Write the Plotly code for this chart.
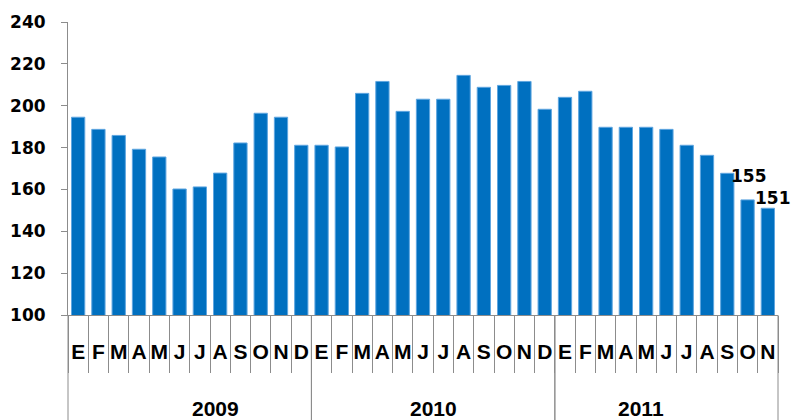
import plotly.graph_objects as go

months = ["E", "F", "M", "A", "M", "J", "J", "A", "S", "O", "N", "D"]
years = ["2009", "2010", "2011"]
values_2009 = [194.5, 188.7, 185.8, 179.2, 175.5, 160.2, 161.2, 167.8, 182.2, 196.4, 194.5, 181.1]
values_2010 = [181.1, 180.3, 205.9, 211.6, 197.3, 203.1, 203.1, 214.5, 208.8, 209.7, 211.6, 198.3]
values_2011 = [204.0, 206.9, 189.7, 189.7, 189.7, 188.7, 181.1, 176.3, 167.7, 155, 151]
labelled_points = [("2011", 9), ("2011", 10)]  # (year, month index) with data labels

series = {"2009": values_2009, "2010": values_2010, "2011": values_2011}

cat_ids, cat_text, vals = [], [], []
year_spans = []
for yr in years:
    start = len(cat_ids)
    for i, v in enumerate(series[yr]):
        cat_ids.append(f"{months[i]}-{i}-{yr}")
        cat_text.append(months[i])
        vals.append(v)
    year_spans.append((yr, start, len(cat_ids) - 1))
N = len(cat_ids)

BLUE = "#0070C0"
GREY = "#8C8C8C"
FONT_NUM = dict(family="DejaVu Sans", size=17, color="black", weight="bold")
FONT_CAT = dict(family="Liberation Sans, Arial", size=21, color="black", weight="bold")

fig = go.Figure(go.Bar(
    x=cat_ids, y=vals,
    marker=dict(color=BLUE, line=dict(color="#5FA6E0", width=1)),
    hoverinfo="x+y",
))

plot_h = 420 - 22 - 105
y_bottom = -105 / plot_h

shapes = []
for yr, s, e in year_spans:
    for b in (s, e + 1):
        xp = b / N
        shapes.append(dict(type="line", xref="paper", yref="paper",
                           x0=xp, x1=xp, y0=0, y1=y_bottom,
                           line=dict(color=GREY, width=1)))

annotations = []
for yr, s, e in year_spans:
    annotations.append(dict(x=(s + e + 1) / 2 / N, xref="paper", y=-93 / plot_h, yref="paper",
                            yanchor="middle", text=yr, showarrow=False,
                            font=FONT_CAT))

shifts = {9: (1, 12), 10: (5, -2)}
for yr, mi in labelled_points:
    v = series[yr][mi]
    annotations.append(dict(x=f"{months[mi]}-{mi}-{yr}", y=v, xref="x", yref="y",
                            yanchor="bottom", text=f"{v:.0f}", showarrow=False,
                            xshift=shifts[mi][0], yshift=shifts[mi][1], font=FONT_NUM))

fig.update_layout(
    width=792, height=420,
    margin=dict(l=68, r=14, t=22, b=105, autoexpand=False),
    plot_bgcolor="white", paper_bgcolor="white",
    bargap=0.345,
    showlegend=False,
    shapes=shapes,
    annotations=annotations,
    xaxis=dict(type="category", tickmode="array", tickvals=cat_ids, ticktext=cat_text,
               tickson="boundaries", ticks="outside", ticklen=57, tickcolor=GREY,
               tickwidth=1, showline=True, linecolor=GREY, linewidth=1,
               tickfont=FONT_CAT, tickangle=0, ticklabelstandoff=18, showgrid=False,
               automargin=False, range=[-0.5, N - 0.5]),
    yaxis=dict(range=[100, 240], dtick=20, tick0=100, ticks="outside", ticklen=6,
               tickcolor=GREY, showline=True, linecolor=GREY, linewidth=1,
               showgrid=False, zeroline=False, tickfont=FONT_NUM, automargin=False,
               ticklabelstandoff=12),
)

fig.write_html("out.html", config={"displayModeBar": False},
               post_script="document.body.style.margin='0';")
